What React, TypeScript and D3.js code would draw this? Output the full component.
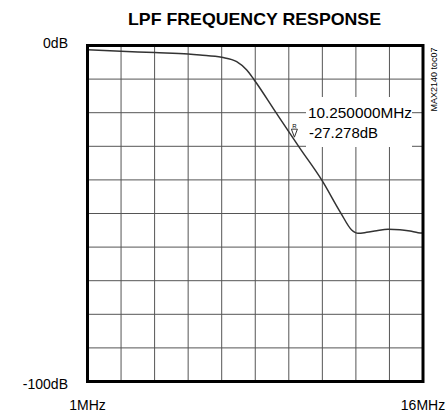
import React from "react";
import * as d3 from "d3";

const freqMHz = [1.0, 2.5, 4.0, 5.5, 6.03, 7.0, 7.67, 8.12, 8.44, 9.43, 10.5, 11.47, 12.32, 12.81, 12.96, 13.1, 13.48, 13.93, 14.44, 14.97, 15.42, 15.78, 16.0];
const gainDb = [-1.3, -1.7, -2.1, -2.5, -2.8, -3.5, -4.8, -7.3, -10.1, -20.0, -30.6, -40.0, -49.8, -54.9, -55.6, -55.9, -55.6, -55.1, -54.7, -54.8, -55.2, -55.7, -55.8];
const xTicks = [1, 2.5, 4, 5.5, 7, 8.5, 10, 11.5, 13, 14.5, 16];
const yTicks = [0, -10, -20, -30, -40, -50, -60, -70, -80, -90, -100];
const markerFreq = 10.25;
const markerDb = -27.278;
const title = "LPF FREQUENCY RESPONSE";

export default function App() {
  const W = 448, H = 412;
  const x0 = 87.5, x1 = 423, y0 = 45.5, y1 = 381.5;
  const x = d3.scaleLinear().domain([1, 16]).range([x0, x1]);
  const y = d3.scaleLinear().domain([0, -100]).range([y0, y1]);
  const data = freqMHz.map((f, i) => [f, gainDb[i]] as [number, number]);
  const line = d3.line<[number, number]>().x(d => x(d[0])).y(d => y(d[1])).curve(d3.curveMonotoneX);
  const font = "'Liberation Sans', Arial, sans-serif";
  const mx = x(markerFreq), my = y(markerDb);
  return (
    <svg width={W} height={H} style={{ position: "absolute", left: 0, top: 0 }} fontFamily={font}>
      <rect x={0} y={0} width={W} height={H} fill="#fff" />
      <text x={254.5} y={25} textAnchor="middle" fontSize={17} fontWeight="bold" textLength={253} lengthAdjust="spacingAndGlyphs">{title}</text>
      {xTicks.slice(1, -1).map(t => (
        <line key={"vx" + t} x1={x(t)} x2={x(t)} y1={y0} y2={y1} stroke="#555" strokeWidth={1} />
      ))}
      {yTicks.slice(1, -1).map(t => (
        <line key={"hy" + t} x1={x0} x2={x1} y1={y(t)} y2={y(t)} stroke="#555" strokeWidth={1} />
      ))}
      <path d={line(data) || ""} fill="none" stroke="#333" strokeWidth={1.5} />
      <rect x={306} y={97} width={106} height={50} fill="#fff" />
      <text x={308} y={118} fontSize={14} textLength={104} lengthAdjust="spacingAndGlyphs">10.250000MHz</text>
      <text x={309} y={138} fontSize={14} textLength={69} lengthAdjust="spacingAndGlyphs">-27.278dB</text>
      <path d={`M${mx - 3},${my - 8} L${mx + 3},${my - 8} L${mx},${my} Z`} fill="#fff" stroke="#333" strokeWidth={1} />
      <text x={mx} y={my - 9} fontSize={6} textAnchor="middle">R</text>
      <rect x={x0} y={y0} width={x1 - x0} height={y1 - y0} fill="none" stroke="#000" strokeWidth={3} />
      <text x={68} y={48} fontSize={14} textAnchor="end">0dB</text>
      <text x={68} y={389} fontSize={14} textAnchor="end">-100dB</text>
      <text x={x(1)} y={410} fontSize={14} textAnchor="middle">1MHz</text>
      <text x={x(16)} y={410} fontSize={14} textAnchor="middle">16MHz</text>
      <text transform={`translate(437,79.5) rotate(-90)`} fontSize={9} textAnchor="middle">MAX2140 toc07</text>
    </svg>
  );
}
